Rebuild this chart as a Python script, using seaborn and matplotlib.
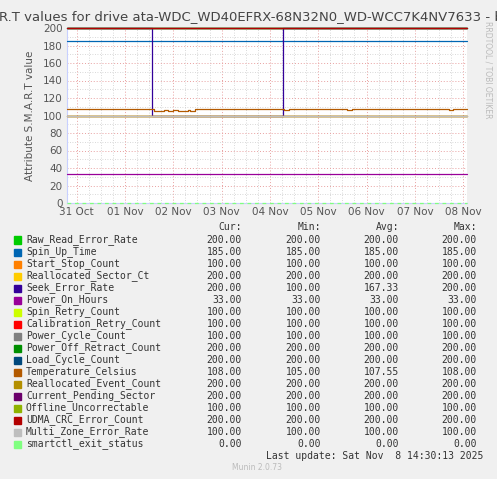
import matplotlib
matplotlib.use("Agg")
import matplotlib.pyplot as plt
import seaborn as sns
import pandas as pd

sns.set_style("white")
plt.rcParams['font.family'] = ['DejaVu Sans']

# series: name, colour, constant value (None -> stepped data below)
names = ["Raw_Read_Error_Rate", "Spin_Up_Time", "Start_Stop_Count", "Reallocated_Sector_Ct",
         "Seek_Error_Rate", "Power_On_Hours", "Spin_Retry_Count", "Calibration_Retry_Count",
         "Power_Cycle_Count", "Power_Off_Retract_Count", "Load_Cycle_Count", "Temperature_Celsius",
         "Reallocated_Event_Count", "Current_Pending_Sector", "Offline_Uncorrectable",
         "UDMA_CRC_Error_Count", "Multi_Zone_Error_Rate", "smartctl_exit_status"]
colors = ["#00cc00", "#0066b3", "#ff8000", "#ffcc00", "#330099", "#990099", "#ccff00", "#ff0000",
          "#808080", "#008f00", "#00487d", "#b35a00", "#b38f00", "#6b006b", "#8fb300",
          "#b30000", "#bebebe", "#80ff80"]
cur = [200, 185, 100, 200, 200, 33, 100, 100, 100, 200, 200, 108, 200, 200, 100, 200, 100, 0]
mins = [200, 185, 100, 200, 100, 33, 100, 100, 100, 200, 200, 105, 200, 200, 100, 200, 100, 0]
avgs = [200, 185, 100, 200, 167.33, 33, 100, 100, 100, 200, 200, 107.55, 200, 200, 100, 200, 100, 0]
maxs = [200, 185, 100, 200, 200, 33, 100, 100, 100, 200, 200, 108, 200, 200, 100, 200, 100, 0]

# time in days since 31 Oct 00:00
t_start, t_end = -0.2, 8.08
seek_t = [t_start, 1.56, 4.27, t_end]
seek_v = [200, 100, 200, 200]
temp_t = [t_start, 0.8, 0.9, 1.55, 1.6, 1.8, 1.9, 2.0, 2.1, 2.3, 2.35, 2.45, 3.0, 4.2, 4.3, 4.4,
          4.5, 4.6, 4.8, 4.9, 5.3, 5.4, 5.5, 5.6, 5.7, 6.2, 6.4, 6.8, 7.2, 7.4, 7.6, 7.7, 7.8, t_end]
temp_v = [108, 107, 108, 107, 105, 106, 105, 106, 105, 106, 105, 107, 108, 107, 106, 108,
          107, 108, 107, 108, 107, 108, 107, 106, 108, 107, 108, 107, 108, 107, 108, 106, 108, 108]
day_labels = ["31 Oct", "01 Nov", "02 Nov", "03 Nov", "04 Nov", "05 Nov", "06 Nov", "07 Nov", "08 Nov"]

W, H = 497, 479
fig = plt.figure(figsize=(W / 100, H / 100), dpi=100, facecolor="#f0f0f0")
ax = fig.add_axes([67 / W, 1 - 203 / H, 400 / W, 175 / H])
ax.set_facecolor("white")

for i, (n, c) in enumerate(zip(names, colors)):
    if n == "Seek_Error_Rate":
        t, v = seek_t, seek_v
    elif n == "Temperature_Celsius":
        t, v = temp_t, temp_v
    else:
        t, v = [t_start, t_end], [cur[i], cur[i]]
    df = pd.DataFrame({"t": t, "v": v})
    ls = (0, (3, 3)) if n == "smartctl_exit_status" else "-"
    sns.lineplot(data=df, x="t", y="v", color=c, lw=0.9, drawstyle="steps-post", ax=ax,
                 linestyle=ls, clip_on=False, zorder=5 if n == "Temperature_Celsius" else 3)

ax.set_xlim(t_start, t_end)
ax.set_ylim(0, 200)
ax.set_xticks(range(9))
ax.set_xticklabels(day_labels)
ax.set_xticks([x / 4 for x in range(0, 33)], minor=True)
ax.set_yticks(range(0, 201, 20))
ax.set_yticks(range(0, 201, 10), minor=True)
ax.grid(True, which="minor", color="#cccccc", ls=(0, (1, 2)), lw=0.6)
ax.grid(True, which="major", color="#e8a0a0", ls=(0, (1, 2)), lw=0.7)
ax.tick_params(labelsize=7.5, colors="#555555", length=0, pad=3)
for s in ["top", "right"]:
    ax.spines[s].set_visible(False)
for s in ["left", "bottom"]:
    ax.spines[s].set_color("#c8d0ff")
ax.set_xlabel("")
ax.set_ylabel("Attribute S.M.A.R.T value", fontsize=7.5, color="#555555", labelpad=6)

fig.text(0.5, 1 - 18 / H, "S.M.A.R.T values for drive ata-WDC_WD40EFRX-68N32N0_WD-WCC7K4NV7633 - by day",
         ha="center", va="center", fontsize=9.5, color="#444444")
fig.text(488 / W, 1 - 70 / H, "RRDTOOL / TOBI OETIKER", rotation=270, ha="center", va="center",
         fontsize=5.5, color="#bbbbbb")

mono = "DejaVu Sans Mono"
col_x = [242, 321, 399, 477]
for x, h in zip(col_x, ["Cur:", "Min:", "Avg:", "Max:"]):
    fig.text(x / W, 1 - 227 / H, h, ha="right", va="center", family=mono, fontsize=7, color="#333333")
for i, n in enumerate(names):
    y = 1 - (240 + 12 * i) / H
    fig.patches.append(plt.Rectangle((14 / W, y - 3.5 / H), 7 / W, 7 / H, color=colors[i],
                                     transform=fig.transFigure))
    fig.text(26 / W, y, n, ha="left", va="center", family=mono, fontsize=7, color="#333333")
    for x, vals in zip(col_x, [cur, mins, avgs, maxs]):
        fig.text(x / W, y, f"{vals[i]:.2f}", ha="right", va="center", family=mono, fontsize=7,
                 color="#333333")
fig.text(483 / W, 1 - 456 / H, "Last update: Sat Nov  8 14:30:13 2025", ha="right", va="center",
         family=mono, fontsize=7, color="#333333")
fig.text(257 / W, 1 - 468 / H, "Munin 2.0.73", ha="center", va="center", fontsize=5.5, color="#bbbbbb")

fig.savefig("out.png", dpi=100, facecolor=fig.get_facecolor())
